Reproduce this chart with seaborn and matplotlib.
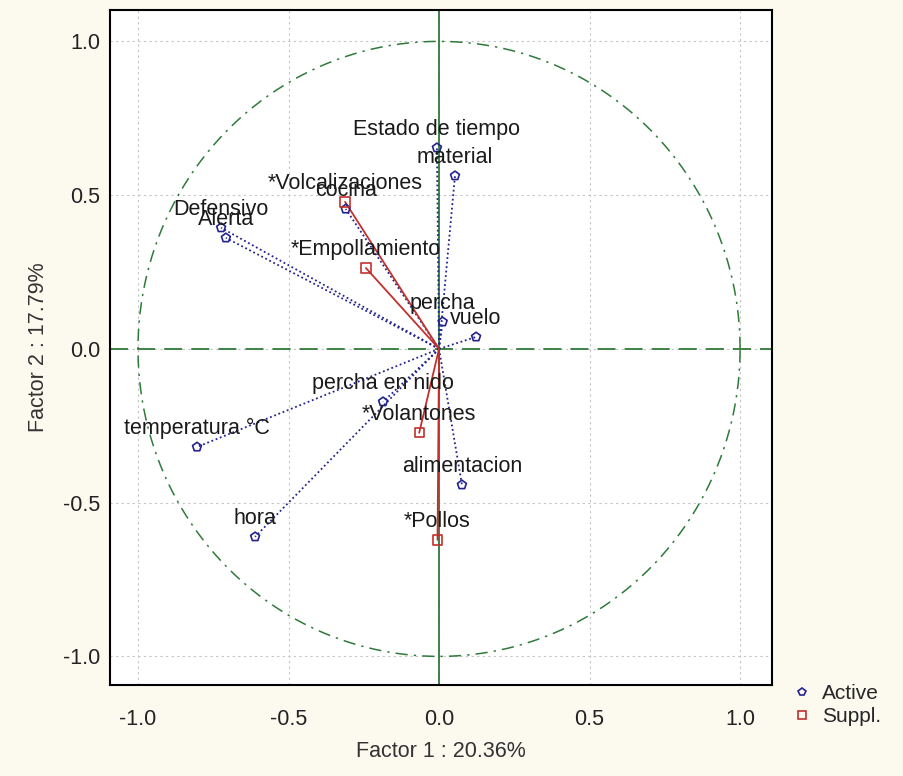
import numpy as np
import pandas as pd
import matplotlib
matplotlib.use("Agg")
import matplotlib.pyplot as plt
import seaborn as sns
from matplotlib.lines import Line2D

# ---- data ----
active_labels = ["Estado de tiempo", "material", "cocina", "Defensivo", "Alerta",
                 "percha", "vuelo", "percha en nido", "temperatura °C",
                 "alimentacion", "hora"]
active_x = [-0.007, 0.053, -0.31, -0.724, -0.708, 0.012, 0.123, -0.186, -0.804, 0.076, -0.611]
active_y = [0.654, 0.563, 0.455, 0.394, 0.361, 0.088, 0.039, -0.172, -0.319, -0.442, -0.611]

suppl_labels = ["*Volcalizaciones", "*Empollamiento", "*Volantones", "*Pollos"]
suppl_x = [-0.312, -0.243, -0.066, -0.005]
suppl_y = [0.478, 0.263, -0.273, -0.621]

x_ticks = [-1.0, -0.5, 0.0, 0.5, 1.0]
y_ticks = [-1.0, -0.5, 0.0, 0.5, 1.0]
x_title = "Factor 1 : 20.36%"
y_title = "Factor 2 : 17.79%"

df = pd.DataFrame({
    "x": active_x + suppl_x,
    "y": active_y + suppl_y,
    "label": active_labels + suppl_labels,
    "type": ["Active"] * len(active_x) + ["Suppl."] * len(suppl_x),
})

BLUE = "#23238e"
RED = "#c0302c"
GREEN = "#2f7a3a"
BG = "#fcf9ef"

sns.set_theme(style="white")
plt.rcParams["font.family"] = ["Liberation Sans", "DejaVu Sans"]

fig = plt.figure(figsize=(9.04, 7.76), dpi=100, facecolor=BG)
ax = fig.add_axes([110 / 904, 1 - 685 / 776, 662 / 904, 675 / 776])
ax.set_facecolor("white")

# grid
for t in x_ticks:
    ax.axvline(t, color="#c4c4c4", lw=0.8, ls=(0, (2, 3)), zorder=0)
for t in y_ticks:
    ax.axhline(t, color="#c4c4c4", lw=0.8, ls=(0, (2, 3)), zorder=0)

# unit circle
th = np.linspace(0, 2 * np.pi, 400)
ax.plot(np.cos(th), np.sin(th), color=GREEN, lw=1.1, ls=(0, (8, 4, 1.5, 4)), zorder=1)
# axes through origin
ax.axhline(0, color=GREEN, lw=1.3, ls=(0, (10, 5)), zorder=1)
ax.axvline(0, color=GREEN, lw=1.3, zorder=1)

# vectors
for _, r in df.iterrows():
    if r["type"] == "Active":
        ax.plot([0, r["x"]], [0, r["y"]], color=BLUE, lw=1.3, ls=(0, (1, 1.5)), zorder=2)
    else:
        ax.plot([0, r["x"]], [0, r["y"]], color=RED, lw=1.3, zorder=2)

sns.scatterplot(data=df, x="x", y="y", hue="type", style="type",
                palette={"Active": BLUE, "Suppl.": RED},
                markers={"Active": "p", "Suppl.": "s"},
                s=45, linewidth=1.2, ax=ax, zorder=3, legend=False)
# open markers
for coll in ax.collections:
    fc = coll.get_facecolors()
    coll.set_edgecolors(fc)
    coll.set_facecolors("none")

for _, r in df.iterrows():
    ax.annotate(r["label"], (r["x"], r["y"]), xytext=(0, 13), textcoords="offset points",
                ha="center", va="center", fontsize=15.5, color="#1a1a1a", zorder=4)

ax.set_xlim(-1.093, 1.106)
ax.set_ylim(-1.093, 1.102)
ax.set_xticks(x_ticks)
ax.set_yticks(y_ticks)
ax.set_xticklabels([f"{t:.1f}" for t in x_ticks], fontsize=15.5, color="#222222")
ax.set_yticklabels([f"{t:.1f}" for t in y_ticks], fontsize=15.5, color="#222222")
ax.tick_params(direction="in", length=6, width=1, color="black")
ax.tick_params(axis="x", pad=17)
ax.tick_params(axis="y", pad=7)
ax.set_xlabel(x_title, fontsize=15.5, color="#333333", labelpad=8)
ax.set_ylabel(y_title, fontsize=15.5, color="#333333", labelpad=10)
for s in ax.spines.values():
    s.set_color("black")
    s.set_linewidth(1.5)

# legend
handles = [Line2D([], [], marker="p", ls="none", mec=BLUE, mfc="none", ms=6, mew=1.2),
           Line2D([], [], marker="s", ls="none", mec=RED, mfc="none", ms=6, mew=1.2)]
fig.legend(handles, ["Active", "Suppl."], loc="upper left", bbox_to_anchor=(787 / 904, 1 - 680 / 776),
           frameon=False, fontsize=15, handletextpad=0.5, labelspacing=0.2, handlelength=1.0,
           borderaxespad=0, borderpad=0.2)

fig.savefig("out.png", dpi=100, facecolor=BG)
